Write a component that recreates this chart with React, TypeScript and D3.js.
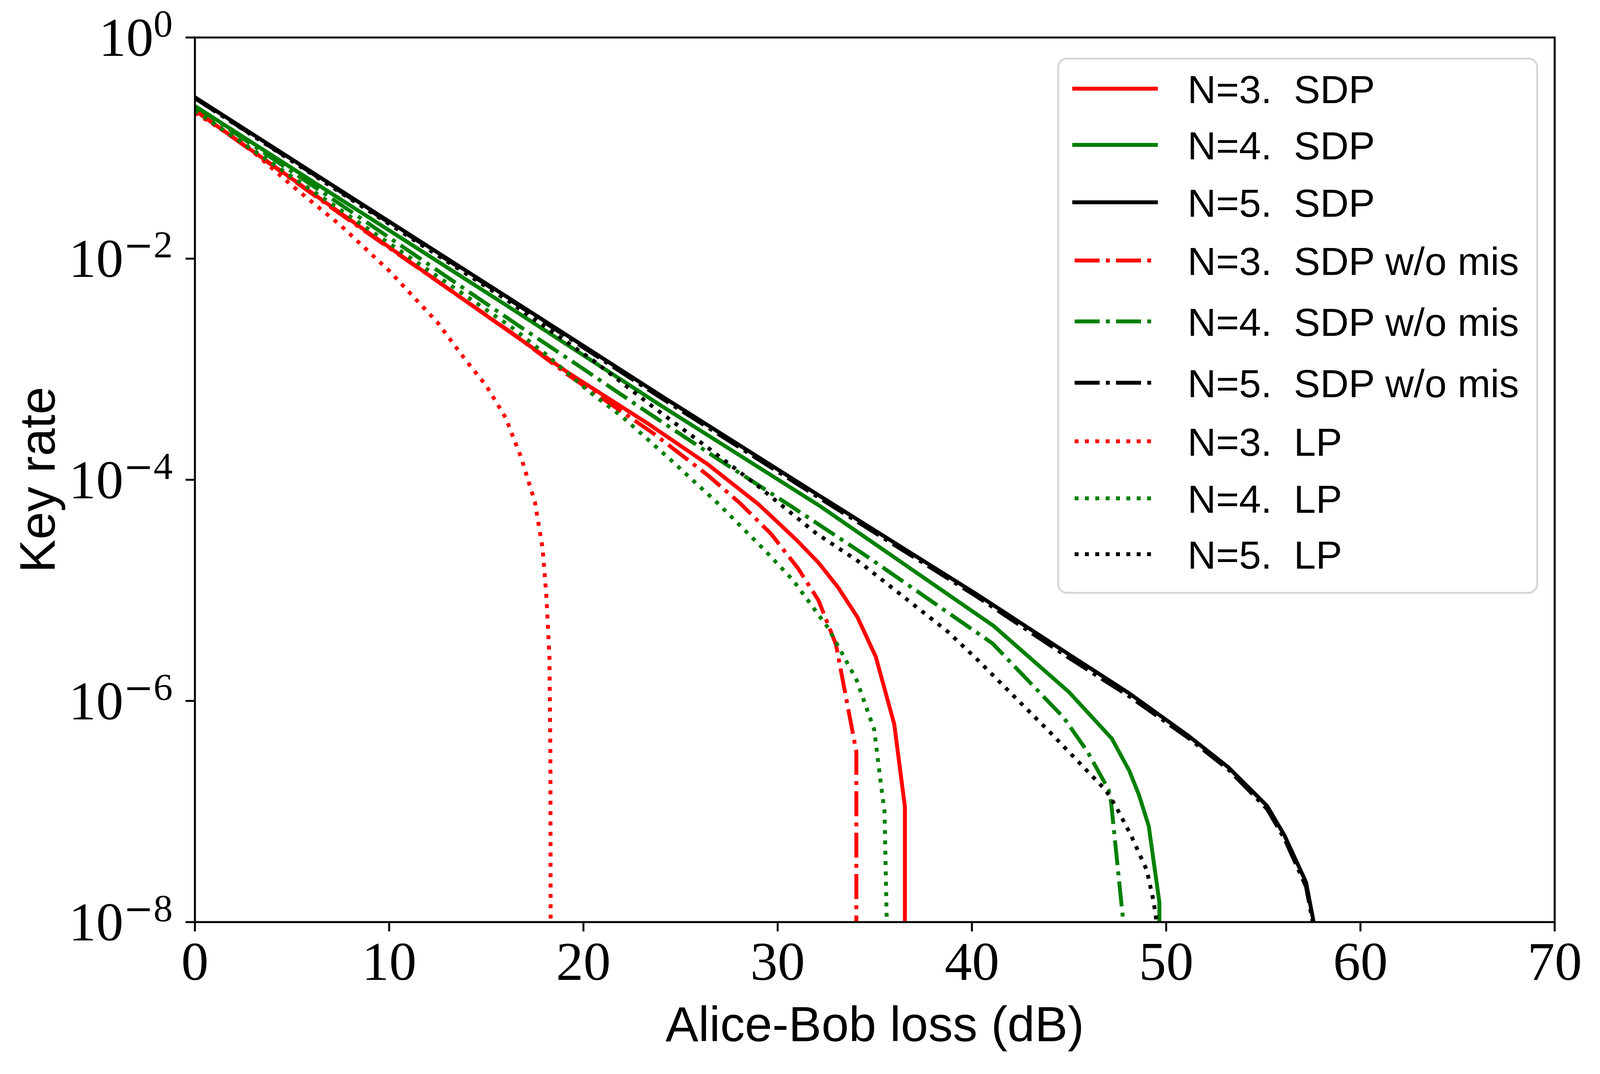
import { line, scaleLinear, scaleLog } from 'd3'

// Alice-Bob loss (dB) and key rate for each curve
const lossN3Sdp = [0, 8, 16.1, 19.2, 23.3, 26.4, 29.0, 30.1, 31.0, 32.1, 33.1, 34.1, 35.05, 36.0, 36.55, 36.55]
const rateN3Sdp = [2.19e-1, 2.24e-2, 2.24e-3, 9.33e-4, 3.24e-4, 1.38e-4, 6.03e-5, 3.98e-5, 2.82e-5, 1.78e-5, 1.07e-5, 5.75e-6, 2.51e-6, 6.17e-7, 1.1e-7, 1e-9]

const lossN4Sdp = [0, 8, 16.1, 24, 32.2, 41.1, 45.0, 47.2, 48.1, 48.6, 49.1, 49.65, 49.65]
const rateN4Sdp = [2.4e-1, 3.02e-2, 3.72e-3, 4.68e-4, 5.75e-5, 4.79e-6, 1.2e-6, 4.57e-7, 2.34e-7, 1.41e-7, 7.41e-8, 1.51e-8, 1e-9]

const lossN5Sdp = [0, 8, 16.1, 24, 32.2, 40.2, 45.0, 48.1, 51.1, 53.2, 55.2, 56.1, 57.2, 57.7]
const rateN5Sdp = [2.88e-1, 3.63e-2, 4.47e-3, 5.75e-4, 7.08e-5, 9.33e-6, 2.63e-6, 1.17e-6, 4.9e-7, 2.51e-7, 1.12e-7, 6.03e-8, 2.29e-8, 7.94e-9]

const lossN3NoMis = [0, 8, 16.3, 19.2, 23.6, 26.4, 28.05, 29.66, 31.05, 32.1, 33.0, 34.05, 34.05]
const rateN3NoMis = [2.19e-1, 2.19e-2, 2.14e-3, 8.91e-4, 2.63e-4, 1.1e-4, 6.17e-5, 3.24e-5, 1.58e-5, 8.13e-6, 3.24e-6, 3.47e-7, 1e-9]

const lossN4NoMis = [0, 8, 16.7, 19.6, 23.3, 27.0, 30.7, 34.4, 41.06, 44.72, 45.95, 47.03, 47.16, 47.82]
const rateN4NoMis = [2.4e-1, 2.69e-2, 2.45e-3, 1.12e-3, 4.07e-4, 1.51e-4, 5.75e-5, 2.14e-5, 3.31e-6, 7.08e-7, 3.47e-7, 1.58e-7, 1.23e-7, 9e-9]

const lossN5NoMis = [0, 8, 16.1, 24, 32.2, 40.2, 45.0, 48.1, 51.1, 53.2, 55.2, 56.1, 57.2, 57.65]
const rateN5NoMis = [2.82e-1, 3.55e-2, 4.37e-3, 5.5e-4, 6.76e-5, 8.91e-6, 2.45e-6, 1.1e-6, 4.68e-7, 2.4e-7, 1.05e-7, 5.62e-8, 2.09e-8, 7.94e-9]

const lossN3Lp = [0, 2.5, 5, 7.5, 10, 12.5, 14, 15, 16, 16.8, 17.5, 17.9, 18.1, 18.25, 18.3, 18.32]
const rateN3Lp = [2.09e-1, 1.1e-1, 4.57e-2, 2.0e-2, 7.76e-3, 2.63e-3, 1.17e-3, 7.08e-4, 3.63e-4, 1.58e-4, 6.31e-5, 2.4e-5, 8.51e-6, 2.51e-6, 3.16e-7, 1e-9]

const lossN4Lp = [0, 8, 16.3, 18.1, 20.2, 22.0, 24.5, 26.9, 29.3, 30.8, 32.6, 34.06, 34.97, 35.3, 35.5, 35.62]
const rateN4Lp = [2.19e-1, 2.4e-2, 2.4e-3, 1.35e-3, 6.46e-4, 3.72e-4, 1.51e-4, 6.17e-5, 2.34e-5, 1.23e-5, 4.57e-6, 1.55e-6, 5.5e-7, 1.86e-7, 1.0e-7, 9e-9]

const lossN5Lp = [0, 8, 16.1, 20.5, 23.65, 26.26, 28.94, 31.95, 34.25, 38.73, 40.24, 44.0, 46.9, 47.4, 48.2, 49.0, 49.35, 49.55]
const rateN5Lp = [2.82e-1, 3.47e-2, 4.17e-3, 1.2e-3, 4.47e-4, 2.04e-4, 8.91e-5, 3.31e-5, 1.78e-5, 4.27e-6, 2.4e-6, 5.25e-7, 1.55e-7, 1.12e-7, 6.03e-8, 2.95e-8, 1.55e-8, 8.91e-9]

const seriesLabels = [
  'N=3.  SDP',
  'N=4.  SDP',
  'N=5.  SDP',
  'N=3.  SDP w/o mis',
  'N=4.  SDP w/o mis',
  'N=5.  SDP w/o mis',
  'N=3.  LP',
  'N=4.  LP',
  'N=5.  LP',
]

const xTicks = [0, 10, 20, 30, 40, 50, 60, 70]
const yTickExponents = [0, -2, -4, -6, -8]

type Point = { loss: number; rate: number }

const zip = (losses: number[], rates: number[]): Point[] =>
  losses.map((loss, index) => ({ loss, rate: rates[index] }))

const red = '#ff0000'
const green = '#008000'
const black = '#000000'

const solid = ''
const dashDot = '64 16 10 16'
const dotted = '10 16.5'

const series = [
  { label: seriesLabels[0], color: red, dash: solid, points: zip(lossN3Sdp, rateN3Sdp) },
  { label: seriesLabels[1], color: green, dash: solid, points: zip(lossN4Sdp, rateN4Sdp) },
  { label: seriesLabels[2], color: black, dash: solid, points: zip(lossN5Sdp, rateN5Sdp) },
  { label: seriesLabels[3], color: red, dash: dashDot, points: zip(lossN3NoMis, rateN3NoMis) },
  { label: seriesLabels[4], color: green, dash: dashDot, points: zip(lossN4NoMis, rateN4NoMis) },
  { label: seriesLabels[5], color: black, dash: dashDot, points: zip(lossN5NoMis, rateN5NoMis) },
  { label: seriesLabels[6], color: red, dash: dotted, points: zip(lossN3Lp, rateN3Lp) },
  { label: seriesLabels[7], color: green, dash: dotted, points: zip(lossN4Lp, rateN4Lp) },
  { label: seriesLabels[8], color: black, dash: dotted, points: zip(lossN5Lp, rateN5Lp) },
]

const width = 4100
const height = 2750

const plot = {
  left: 499,
  right: 3980,
  top: 96,
  bottom: 2361,
}

const legendBox = { x: 2709, y: 150, width: 1226, height: 1368 }
// row centres of the legend entries (rows with "w/o" sit a little further apart)
const legendRows = [227, 371, 518, 667, 823, 980, 1130, 1276, 1419]

const serif = '"Liberation Serif", "DejaVu Serif", serif'
const sans = '"Liberation Sans", "DejaVu Sans", sans-serif'

function App() {
  const xScale = scaleLinear().domain([0, 70]).range([plot.left, plot.right])
  const yScale = scaleLog().domain([1e-8, 1]).range([plot.bottom, plot.top])

  const curve = line<Point>()
    .x((point) => xScale(point.loss))
    .y((point) => yScale(point.rate))

  return (
    <div style={{ position: 'absolute', left: 0, top: 0 }}>
      <svg width={width} height={height} viewBox={`0 0 ${width} ${height}`}>
        <rect x={0} y={0} width={width} height={height} fill="#ffffff" />
        <defs>
          <clipPath id="plot-clip">
            <rect
              x={plot.left}
              y={plot.top}
              width={plot.right - plot.left}
              height={plot.bottom - plot.top}
            />
          </clipPath>
        </defs>

        <g clipPath="url(#plot-clip)">
          {series.map((item) => (
            <path
              key={item.label}
              d={curve(item.points) ?? ''}
              fill="none"
              stroke={item.color}
              strokeWidth={10}
              strokeDasharray={item.dash || undefined}
              strokeLinejoin="round"
              strokeLinecap={item.dash ? 'butt' : 'square'}
            />
          ))}
        </g>

        {/* legend */}
        <rect
          x={legendBox.x}
          y={legendBox.y}
          width={legendBox.width}
          height={legendBox.height}
          rx={22}
          ry={22}
          fill="#ffffff"
          fillOpacity={0.8}
          stroke="#d6d6d6"
          strokeWidth={5}
        />
        {series.map((item, index) => {
          const y = legendRows[index]

          return (
            <g key={`${item.label}-legend`}>
              <line
                x1={item.dash ? 2751 : 2750}
                y1={y}
                x2={item.dash ? 2962 : 2959}
                y2={y}
                stroke={item.color}
                strokeWidth={10}
                strokeDasharray={item.dash || undefined}
                strokeLinecap={item.dash ? 'butt' : 'square'}
              />
              <text
                x={3040}
                y={y + 37}
                fontFamily={sans}
                fontSize={101}
                fill="#000000"
                style={{ whiteSpace: 'pre' }}
              >
                {item.label}
              </text>
            </g>
          )
        })}

        {/* frame */}
        <rect
          x={plot.left}
          y={plot.top}
          width={plot.right - plot.left}
          height={plot.bottom - plot.top}
          fill="none"
          stroke="#000000"
          strokeWidth={5}
        />

        {xTicks.map((tick) => {
          const x = xScale(tick)

          return (
            <g key={`${tick}-x`}>
              <line x1={x} y1={plot.bottom} x2={x} y2={plot.bottom + 24} stroke="#000000" strokeWidth={5} />
              <text
                x={x}
                y={plot.bottom + 148}
                textAnchor="middle"
                fontFamily={serif}
                fontSize={140}
                fill="#000000"
              >
                {tick}
              </text>
            </g>
          )
        })}

        {yTickExponents.map((exponent) => {
          const y = yScale(10 ** exponent)

          return (
            <g key={`${exponent}-y`}>
              <line x1={plot.left - 24} y1={y} x2={plot.left} y2={y} stroke="#000000" strokeWidth={5} />
              <text
                x={442}
                y={y + 47}
                textAnchor="end"
                fontFamily={serif}
                fontSize={140}
                fill="#000000"
              >
                10
                <tspan dy={-50} fontSize={98}>
                  {exponent < 0 ? (
                    <tspan fontFamily='"DejaVu Serif", serif' fontSize={92}>
                      {'\u2212'}
                    </tspan>
                  ) : null}
                  {Math.abs(exponent)}
                </tspan>
              </text>
            </g>
          )
        })}

        <text
          x={(plot.left + plot.right) / 2}
          y={2666}
          textAnchor="middle"
          fontFamily={sans}
          fontSize={126}
          fill="#000000"
        >
          Alice-Bob loss (dB)
        </text>

        <text
          transform={`translate(140, ${(plot.top + plot.bottom) / 2}) rotate(-90)`}
          textAnchor="middle"
          fontFamily={sans}
          fontSize={128}
          fill="#000000"
        >
          Key rate
        </text>
      </svg>
    </div>
  )
}

export default App
